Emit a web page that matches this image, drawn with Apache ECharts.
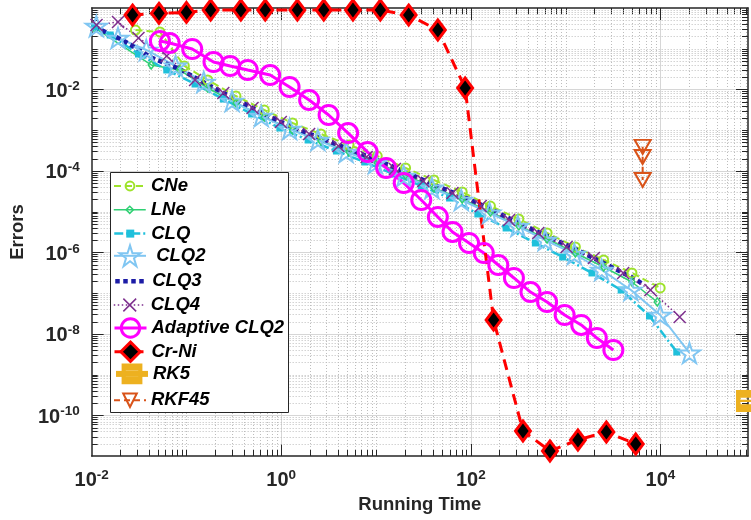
<!DOCTYPE html>
<html>
<head>
<meta charset="utf-8">
<script src="https://cdn.jsdelivr.net/npm/echarts@6/dist/echarts.min.js"></script>
<style>
  html, body { margin: 0; padding: 0; background: #fff; overflow: hidden; }
  #chart { width: 751px; height: 520px; }
</style>
</head>
<body>
<div id="chart"></div>
<script>
// Running time vs. error for each integration method (log-log)

const cneTime = [0.029, 0.0525, 0.095, 0.1675, 0.333, 0.662, 1.316, 2.62, 5.20, 10.3, 20.5, 40.8, 81.1, 161, 321, 638, 1268, 2520, 5010, 9950];
const cneErr  = [0.288, 0.2575, 0.0377, 0.01706, 0.0069, 0.00313, 0.0015, 8.06e-4, 4.33e-4, 2.32e-4, 1.18e-4, 5.98e-5, 3.04e-5, 1.37e-5, 6.6e-6, 2.99e-6, 1.36e-6, 6.5e-7, 3.12e-7, 1.34e-7];

const lneTime = [0.01074, 0.0425, 0.0843, 0.1675, 0.333, 0.662, 1.316, 2.62, 5.20, 10.3, 20.5, 40.8, 81.1, 161, 321, 638, 1268, 2520, 5010, 9270];
const lneErr  = [0.323, 0.0399, 0.0301, 0.01086, 0.004655, 0.002108, 0.001011, 5.43e-4, 2.91e-4, 1.565e-4, 7.94e-5, 3.81e-5, 2.05e-5, 9.8e-6, 4.44e-6, 2.13e-6, 9.66e-7, 4.38e-7, 1.875e-7, 6.05e-8];

const clqTime = [0.01074, 0.01569, 0.03118, 0.0620, 0.1232, 0.2448, 0.4866, 0.967, 1.923, 3.822, 7.60, 15.1, 30.0, 59.7, 118.6, 235.8, 479.7, 931, 1896, 3857, 7671, 14890];
const clqErr  = [0.342, 0.2173, 0.0742, 0.0301, 0.01361, 0.00583, 0.0025, 0.001132, 5.74e-4, 3.08e-4, 1.656e-4, 8.4e-5, 4.27e-5, 2.16e-5, 8.76e-6, 3.97e-6, 1.70e-6, 7.7e-7, 3.12e-7, 1.19e-7, 2.74e-8, 3.58e-9];

const clq2Time = [0.0112, 0.01897, 0.0377, 0.0767, 0.1524, 0.3031, 0.6167, 1.226, 2.437, 4.844, 9.86, 19.6, 38.9, 79.3, 157.6, 313.3, 608, 1238, 2403, 4891, 9950, 20260];
const clq2Err  = [0.36, 0.1834, 0.0931, 0.0377, 0.01525, 0.00521, 0.00223, 0.001069, 5.74e-4, 2.914e-4, 1.565e-4, 7.5e-5, 3.81e-5, 1.93e-5, 9.27e-6, 4.44e-6, 2.01e-6, 9.12e-7, 3.69e-7, 1.19e-7, 2.90e-8, 3.39e-9];

const clq3Time = [0.01074, 0.02133, 0.04246, 0.0843, 0.1675, 0.341, 0.678, 1.349, 2.68, 5.32, 10.6, 21.5, 42.8, 85.1, 169, 336, 668, 1361, 2706, 5378, 6505];
const clq3Err  = [0.342, 0.162, 0.0609, 0.0318, 0.01324, 0.00551, 0.002427, 0.001158, 6.21e-4, 3.36e-4, 1.80e-4, 8.9e-5, 4.34e-5, 2.29e-5, 1.10e-5, 4.98e-6, 2.39e-6, 1.11e-6, 5.04e-7, 2.22e-7, 1.67e-7];

const clq4Time = [0.01126, 0.01897, 0.03118, 0.0620, 0.1232, 0.2448, 0.498, 0.9906, 1.968, 4.008, 7.96, 15.83, 31.5, 64.05, 127.3, 253.1, 515, 1024, 1988, 4047, 7856, 15980];
const clq4Err  = [0.3825, 0.453, 0.1834, 0.0663, 0.01706, 0.00818, 0.0035, 0.001589, 8.06e-4, 4.09e-4, 2.197e-4, 1.114e-4, 5.655e-5, 2.87e-5, 1.377e-5, 6.24e-6, 2.99e-6, 1.355e-6, 7.28e-7, 3.12e-7, 1.19e-7, 2.59e-8];

const adaptTime = [0.0525, 0.0665, 0.115, 0.193, 0.289, 0.443, 0.764, 1.225, 1.97, 3.16, 5.08, 8.16, 12.8, 19.6, 30.0, 44.9, 64.1, 95.8, 137, 195, 285, 426, 638, 977, 1462, 2135, 3190];
const adaptErr  = [0.155, 0.138, 0.0985, 0.0472, 0.0377, 0.030, 0.0226, 0.0115, 0.0055, 2.36e-3, 8.5e-4, 2.9e-4, 1.18e-4, 5.05e-5, 1.93e-5, 7.4e-6, 3.17e-6, 1.70e-6, 9.66e-7, 4.9e-7, 2.35e-7, 1.06e-7, 6.05e-8, 2.9e-8, 1.65e-8, 7.9e-9, 4.0e-9];

const crniTime = [0.027, 0.0513, 0.100, 0.180, 0.375, 0.678, 1.48, 2.81, 5.71, 11.1, 22.1, 44.9, 87.1, 174, 355, 684, 1349, 2692, 5495];
const crniErr  = [0.67, 0.74, 0.78, 0.89, 0.89, 0.89, 0.89, 0.89, 0.89, 0.89, 0.67, 0.288, 0.01086, 2.19e-8, 4.12e-11, 1.33e-11, 2.48e-11, 3.89e-11, 1.97e-11];

const rk5Time = [82000];
const rk5Err  = [2.25e-10];

const rkf45Time = [6500, 6500, 6500];
const rkf45Err  = [3.9e-4, 2.2e-4, 6.0e-5];

// axis ranges and labelled decades
const X_MIN = 1e-2, X_MAX = 8.4e4;
const Y_MIN = 1e-11, Y_MAX = 1;
const xLabelExps = [-2, 0, 2, 4];
const yLabelExps = [-2, -4, -6, -8, -10];

const FONT = 'Arial, "Liberation Sans", Helvetica, sans-serif';
const AXIS_COLOR = '#262626';

const STAR = 'path://M12,0 L14.7,8.28 L23.41,8.29 L16.37,13.42 L19.05,21.71 L12,16.6 L4.95,21.71 L7.63,13.42 L0.59,8.29 L9.3,8.28 Z';
const XMARK = 'path://M0,0 L10,10 M10,0 L0,10';
const SLIT_SQUARE = 'path://M0,0 H20 V20 H0 Z M4,7 V9 H16 V7 Z M4,11 V13 H16 V11 Z';

function pairs(xs, ys) { return xs.map((x, i) => [x, ys[i]]); }

function lineSeries(name, xs, ys, style) {
  return Object.assign({
    type: 'line', name: name, data: pairs(xs, ys),
    clip: false, silent: true, animation: false,
    emphasis: { disabled: true }, z: 2
  }, style);
}

// minor / major log grid positions (1..9 x 10^e), majors on labelled decades
function logGrid(lo, hi) {
  const out = [];
  for (let e = Math.floor(Math.log10(lo)); e <= Math.ceil(Math.log10(hi)); e++) {
    for (let m = 1; m <= 9; m++) {
      const v = m * Math.pow(10, e);
      if (v > lo * 1.0001 && v < hi * 0.9999) out.push([v, m === 1 && e % 2 === 0 ? 1 : 0]);
    }
  }
  return out;
}

const MAJOR_GRID = { stroke: '#d6d6d6', lineWidth: 1 };
const MINOR_GRID = { stroke: '#bdbdbd', lineWidth: 1, lineDash: [1, 2] };
const TICK = { stroke: AXIS_COLOR, lineWidth: 1 };

function xGridItem(params, api) {
  const cs = params.coordSys;
  const x = Math.round(api.coord([api.value(0), Y_MAX])[0]) + 0.5;
  const major = api.value(2) === 1;
  const t = major ? 12 : 6;
  const top = cs.y, bot = cs.y + cs.height;
  return { type: 'group', children: [
    { type: 'line', shape: { x1: x, y1: top, x2: x, y2: bot }, style: major ? MAJOR_GRID : MINOR_GRID },
    { type: 'line', shape: { x1: x, y1: bot, x2: x, y2: bot - t }, style: TICK },
    { type: 'line', shape: { x1: x, y1: top, x2: x, y2: top + t }, style: TICK }
  ]};
}

function yGridItem(params, api) {
  const cs = params.coordSys;
  const y = Math.round(api.coord([X_MIN, api.value(1)])[1]) + 0.5;
  const major = api.value(2) === 1;
  const t = major ? 12 : 6;
  const l = cs.x, r = cs.x + cs.width;
  return { type: 'group', children: [
    { type: 'line', shape: { x1: l, y1: y, x2: r, y2: y }, style: major ? MAJOR_GRID : MINOR_GRID },
    { type: 'line', shape: { x1: l, y1: y, x2: l + t, y2: y }, style: TICK },
    { type: 'line', shape: { x1: r, y1: y, x2: r - t, y2: y }, style: TICK }
  ]};
}

function expLabel(allowed) {
  return function (v) {
    const p = Math.log10(v);
    const e = Math.round(p);
    if (Math.abs(p - e) > 1e-6 || allowed.indexOf(e) < 0) return '';
    return '{b|10}{s|' + e + '}';
  };
}
const expRich = {
  b: { fontFamily: FONT, fontSize: 20, fontWeight: 'bold', color: AXIS_COLOR, lineHeight: 25 },
  s: { fontFamily: FONT, fontSize: 13.5, fontWeight: 'bold', color: AXIS_COLOR, lineHeight: 14, verticalAlign: 'top' }
};
const axisLine = { show: true, lineStyle: { color: AXIS_COLOR, width: 1.5 } };

const series = [
  { type: 'custom', name: 'xgrid', data: logGrid(X_MIN, X_MAX).map(g => [g[0], Y_MAX, g[1]]),
    renderItem: xGridItem, silent: true, z: 1, animation: false, clip: false },
  { type: 'custom', name: 'ygrid', data: logGrid(Y_MIN, Y_MAX).map(g => [X_MIN, g[0], g[1]]),
    renderItem: yGridItem, silent: true, z: 1, animation: false, clip: false },

  lineSeries('CNe', cneTime, cneErr, {
    symbol: 'circle', symbolSize: 9,
    itemStyle: { color: 'transparent', borderColor: '#9ee32b', borderWidth: 2 },
    lineStyle: { color: '#9ee32b', width: 2, type: [7, 4] } }),
  lineSeries('LNe', lneTime, lneErr, {
    symbol: 'diamond', symbolSize: [6, 8],
    itemStyle: { color: 'transparent', borderColor: '#2fd073', borderWidth: 1.5 },
    lineStyle: { color: '#2fd073', width: 1.5 } }),
  lineSeries('CLQ', clqTime, clqErr, {
    symbol: 'rect', symbolSize: 7,
    itemStyle: { color: '#1fc0db' },
    lineStyle: { color: '#1fc0db', width: 2.5, type: [9, 3, 2, 3] } }),
  lineSeries(' CLQ2', clq2Time, clq2Err, {
    symbol: STAR, symbolSize: 21, symbolKeepAspect: true,
    itemStyle: { color: 'transparent', borderColor: '#80c6f2', borderWidth: 2 },
    lineStyle: { color: '#80c6f2', width: 2 } }),
  lineSeries('CLQ3', clq3Time, clq3Err, {
    symbol: 'none', showSymbol: false,
    itemStyle: { color: '#1c1ca6' },
    lineStyle: { color: '#1c1ca6', width: 4.5, type: [4.5, 3.5] } }),
  lineSeries('CLQ4', clq4Time, clq4Err, {
    symbol: XMARK, symbolSize: 12,
    itemStyle: { color: 'transparent', borderColor: '#7e2f8e', borderWidth: 1.5 },
    lineStyle: { color: '#7e2f8e', width: 1.5, type: [1.5, 2.5] } }),
  lineSeries('Adaptive CLQ2', adaptTime, adaptErr, {
    symbol: 'circle', symbolSize: 19,
    itemStyle: { color: 'transparent', borderColor: '#ff00ff', borderWidth: 3 },
    lineStyle: { color: '#ff00ff', width: 3 } }),
  lineSeries('Cr-Ni', crniTime, crniErr, {
    symbol: 'diamond', symbolSize: [15, 20],
    itemStyle: { color: '#000000', borderColor: '#ff0000', borderWidth: 3 },
    lineStyle: { color: '#ff0000', width: 3, type: [11, 7] } }),
  lineSeries('RK5', rk5Time, rk5Err, {
    symbol: SLIT_SQUARE, symbolSize: 22,
    itemStyle: { color: '#edb120' },
    lineStyle: { color: '#edb120', width: 5 } }),
  lineSeries('RKF45', rkf45Time, rkf45Err, {
    symbol: 'triangle', symbolRotate: 180, symbolSize: [16, 14],
    itemStyle: { color: 'transparent', borderColor: '#d95319', borderWidth: 2 },
    lineStyle: { color: '#d95319', width: 2, type: [6, 4] } })
];

// legend rows: name, icon height, line width, marker border width
const legendNames   = ['CNe', 'LNe', 'CLQ', ' CLQ2', 'CLQ3', 'CLQ4', 'Adaptive CLQ2', 'Cr-Ni', 'RK5', 'RKF45'];
const legendIconH   = [11, 9, 10, 26, 10, 16, 23, 24, 26, 17];
const legendLineW   = [2, 1.5, 2.5, 2, 4.5, 1.5, 3, 3, 6, 2];
const legendBorderW = [2, 1.5, 0, 2, 0, 1.5, 3, 3, 0, 2];
const LEGEND_TOP = 186, LEGEND_STEP = 23.8, LEGEND_TEXT_H = 21;

const legends = legendNames.map((name, i) => {
  const h = legendIconH[i];
  const item = { name: name };
  if (name === 'CLQ3') item.itemStyle = { opacity: 0 };
  return {
    data: [item], left: 113,
    top: LEGEND_TOP + i * LEGEND_STEP - Math.max(h, LEGEND_TEXT_H) / 2,
    orient: 'horizontal', padding: 0, itemWidth: 32, itemHeight: h,
    selectedMode: false, z: 10,
    itemStyle: { borderWidth: legendBorderW[i] },
    lineStyle: { width: legendLineW[i] },
    textStyle: { fontFamily: FONT, fontSize: 18.5, fontWeight: 'bold', fontStyle: 'italic', color: '#000', lineHeight: LEGEND_TEXT_H }
  };
});

const chart = echarts.init(document.getElementById('chart'), null, { renderer: 'canvas' });
chart.setOption({
  animation: false,
  backgroundColor: '#ffffff',
  grid: { left: 80, top: 8, width: 673, height: 448, containLabel: false },
  xAxis: [
    { type: 'log', logBase: 10, min: X_MIN, max: X_MAX, interval: 1, splitNumber: 7,
      axisLine: axisLine, axisTick: { show: false }, splitLine: { show: false }, minorTick: { show: false },
      axisLabel: { formatter: expLabel(xLabelExps), rich: expRich, margin: 12, showMinLabel: true, showMaxLabel: true },
      name: 'Running Time', nameLocation: 'middle', nameGap: 36,
      nameTextStyle: { fontFamily: FONT, fontSize: 18.5, fontWeight: 'bold', color: AXIS_COLOR } },
    { type: 'log', logBase: 10, min: X_MIN, max: X_MAX, interval: 1, splitNumber: 7, position: 'top',
      axisLine: axisLine, axisTick: { show: false }, splitLine: { show: false }, axisLabel: { show: false } }
  ],
  yAxis: [
    { type: 'log', logBase: 10, min: Y_MIN, max: Y_MAX, interval: 1, splitNumber: 11,
      axisLine: axisLine, axisTick: { show: false }, splitLine: { show: false }, minorTick: { show: false },
      axisLabel: { formatter: expLabel(yLabelExps), rich: expRich, margin: 12, padding: [4, 0, 0, 0], showMinLabel: true, showMaxLabel: true, hideOverlap: false },
      name: 'Errors', nameLocation: 'middle', nameGap: 57,
      nameTextStyle: { fontFamily: FONT, fontSize: 18.5, fontWeight: 'bold', color: AXIS_COLOR } },
    { type: 'log', logBase: 10, min: Y_MIN, max: Y_MAX, interval: 1, splitNumber: 11, position: 'right',
      axisLine: axisLine, axisTick: { show: false }, splitLine: { show: false }, axisLabel: { show: false } }
  ],
  legend: legends,
  graphic: [
    { type: 'rect', z: 9, silent: true,
      shape: { x: 110.5, y: 172.5, width: 178, height: 240 },
      style: { fill: '#ffffff', stroke: AXIS_COLOR, lineWidth: 1 } }
  ],
  series: series
});
</script>
</body>
</html>
